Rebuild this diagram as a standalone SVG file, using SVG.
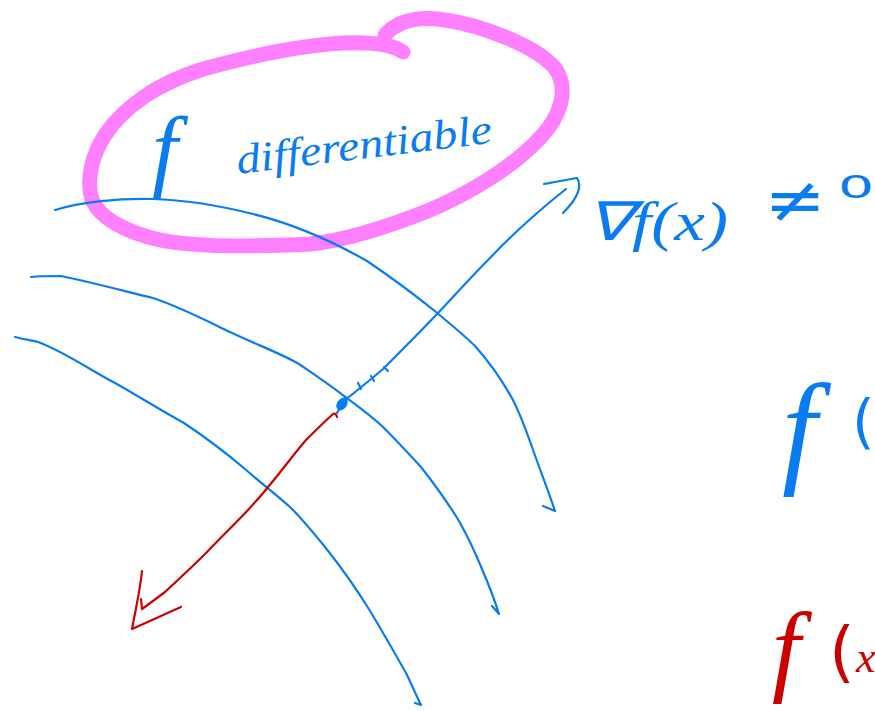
<svg xmlns="http://www.w3.org/2000/svg" width="875" height="711" viewBox="0 0 875 711">
<style>
.b{fill:none;stroke:#0a7cf2;stroke-width:2.2;stroke-linecap:round;stroke-linejoin:round}
.r{fill:none;stroke:#cc0000;stroke-width:2.2;stroke-linecap:round;stroke-linejoin:round}
.p{fill:none;stroke:#ff80ff;stroke-width:15;stroke-linecap:round;stroke-linejoin:round}
.tb{fill:#0a7cf2;font-family:"Liberation Serif",serif;font-style:italic}
.tr{fill:#cc0000;font-family:"Liberation Serif",serif;font-style:italic}
.up{font-family:"DejaVu Sans",sans-serif;font-style:normal}
</style>
<rect width="875" height="711" fill="#ffffff"/>
<g id="highlight">
<path class="p" d="M403,52 C392,44 372,42 345,43 C300,45 250,56 200,70 C160,83 125,105 105,135 C92,155 86,180 92,200 C100,218 125,232 160,240 C195,247 250,247 310,244 C350,240 395,224 430,210 C465,195 510,170 540,138 C560,117 570,90 555,68 C535,45 480,25 445,20 C425,17 400,18 385,35"/>
</g>
<g id="title">
<text class="tb" x="152" y="180" font-size="92">f</text>
<text class="tb" x="238" y="174" font-size="42" textLength="257" lengthAdjust="spacingAndGlyphs" transform="rotate(-7 238 174)">differentiable</text>
</g>
<g id="level-curves">
<path class="b" d="M55,210 C80,202 120,198 153,199 C190,200 225,207 253,214 C290,223 330,240 367,261 C395,280 415,295 436,312 C455,328 465,336 475,346 C492,365 502,380 513,400 C522,418 526,430 532,447 C540,470 548,490 555,511 L543,506"/>
<path class="b" d="M31,277 C40,276 50,276 61,276 C90,282 120,290 153,298 C180,307 205,320 230,332 C255,344 280,353 299,364 C315,375 330,385 344,396 C360,408 370,415 383,427 C398,442 408,453 421,467 C435,485 448,503 459,521 C468,537 475,552 482,569 C488,583 494,598 499,614 L492,606"/>
<path class="b" d="M15,337 C22,339 30,340 38,342 C65,352 90,370 115,383 C140,397 160,410 184,423 C205,437 225,452 245,469 C262,484 277,495 291,508 C305,522 317,537 329,552 C343,570 355,587 367,606 C380,627 393,650 406,673 C412,685 416,695 421,705 L415,703"/>
</g>
<g id="gradient">
<path class="b" d="M337,413 C340,408 342,403 345,400 C358,390 370,380 383,369 C402,350 420,332 438,313 C455,295 472,276 490,258 C505,242 520,228 536,214 C546,205 556,197 566,189"/>
<path class="b" d="M544,184 C555,182 565,180 577,178 C582,186 578,198 563,213"/>
<ellipse cx="342" cy="404" rx="5" ry="7" transform="rotate(35 342 404)" fill="#0a7cf2"/>
<path class="b" d="M358,383 L361,389 M371,376 L374,381 M384,367 L388,371" stroke-width="1.6"/>
</g>
<g id="neg-gradient">
<path class="r" d="M337,417 C336,414 335,413 333,414 C322,424 314,432 306,440 C293,455 281,472 268,487 C262,495 255,502 249,509 C235,524 221,537 207,552 C193,566 178,580 165,592 C157,598 149,604 142,609 L141,599"/>
<path class="r" d="M142,571 C140,590 136,608 132,629 C148,622 165,614 181,607"/>
</g>
<g id="labels">
<text class="tb" x="586" y="240" font-size="54" textLength="142" lengthAdjust="spacingAndGlyphs">∇f(x)</text>
<text class="tb up" x="764" y="222" font-size="64" textLength="62" lengthAdjust="spacingAndGlyphs">≠</text>
<text class="tb up" x="838" y="198" font-size="32" textLength="36" lengthAdjust="spacingAndGlyphs">0</text>
<text class="tb" x="782" y="470" font-size="125">f</text>
<text class="tb up" x="852" y="442" font-size="58">(</text>
<text class="tr" x="772" y="682" font-size="102">f</text>
<text class="tr up" x="829" y="674" font-size="66">(</text>
<text class="tr" x="856" y="672" font-size="44">x</text>
</g>
</svg>
